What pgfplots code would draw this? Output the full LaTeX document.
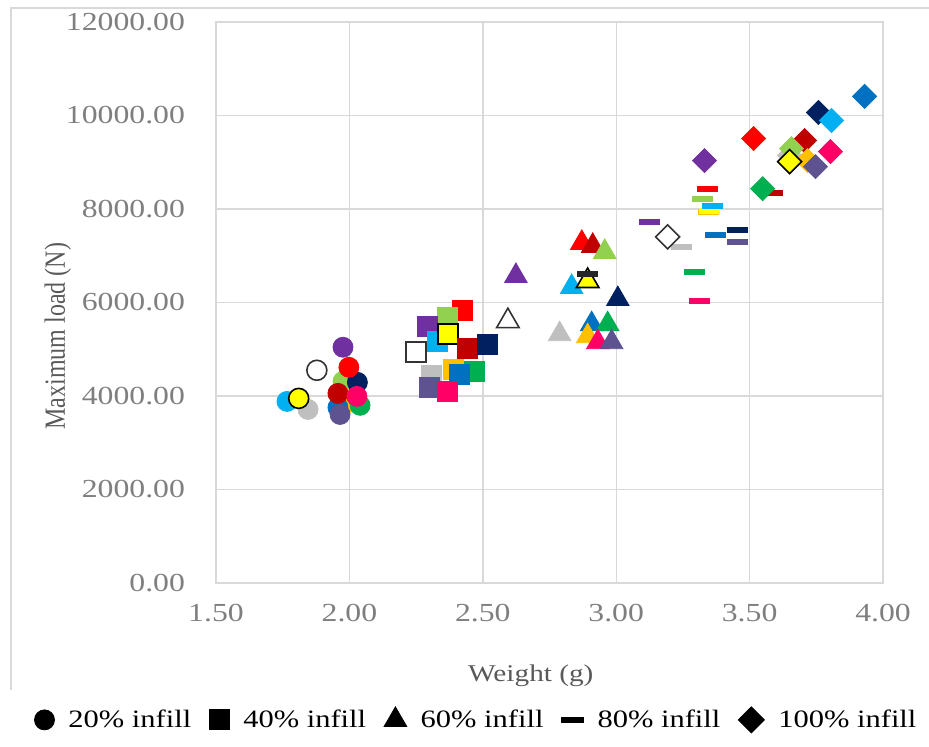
\documentclass[border=0pt]{standalone}
\usepackage{pgfplots}
\pgfplotsset{compat=1.18}
\usepackage{pgfplotstable}
\usepackage{graphicx}
\usepackage{fontspec}
\setmainfont{Liberation Serif}

\definecolor{cpu}{HTML}{7030A0}
\definecolor{cre}{HTML}{FF0000}
\definecolor{clg}{HTML}{92D050}
\definecolor{cna}{HTML}{002060}
\definecolor{cdr}{HTML}{C00000}
\definecolor{cpk}{HTML}{FF0066}
\definecolor{cgr}{HTML}{00B050}
\definecolor{cbl}{HTML}{0070C0}
\definecolor{csl}{HTML}{5E5390}
\definecolor{ccy}{HTML}{00B0F0}
\definecolor{cye}{HTML}{FFFF00}
\definecolor{cgy}{HTML}{BFBFBF}
\definecolor{cor}{HTML}{FFC000}
\definecolor{gridc}{HTML}{D9D9D9}
\definecolor{tickc}{HTML}{7F7F7F}

\pgfdeclareplotmark{rdiamond}{%
  \pgfpathmoveto{\pgfqpoint{0pt}{\pgfplotmarksize}}%
  \pgfpathlineto{\pgfqpoint{\pgfplotmarksize}{0pt}}%
  \pgfpathlineto{\pgfqpoint{0pt}{-\pgfplotmarksize}}%
  \pgfpathlineto{\pgfqpoint{-\pgfplotmarksize}{0pt}}%
  \pgfpathclose\pgfusepathqfillstroke}
\pgfdeclareplotmark{dash}{%
  \pgfpathrectangle{\pgfqpoint{-\pgfplotmarksize}{-0.25\pgfplotmarksize}}{\pgfqpoint{2\pgfplotmarksize}{0.5\pgfplotmarksize}}%
  \pgfusepathqfillstroke}

\newcommand{\hs}[1]{\scalebox{1.22}[1]{#1}}

% 20% infill (circles)
\pgfplotstableread{
x y c
1.990 3850 or
2.040 3800 gr
1.845 3712 gy
1.957 3755 bl
1.965 3605 sl
1.766 3884 cy
1.810 3949 ye
1.976 4313 lg
2.030 4292 na
1.957 4056 dr
2.028 3992 pk
1.998 4614 re
1.976 5043 pu
1.878 4550 wh
}\tabA
% 40% infill (squares)
\pgfplotstableread{
x y c
2.425 5837 re
2.369 5687 lg
2.294 5494 pu
2.328 5172 cy
2.369 5322 ye
2.444 5022 dr
2.519 5107 na
2.249 4936 wh
2.309 4442 gy
2.390 4571 or
2.470 4528 gr
2.414 4464 bl
2.300 4185 sl
2.369 4099 pk
}\tabB
% 60% infill (triangles)
\pgfplotstableread{
x y c
2.871 7275 re
2.912 7211 dr
2.957 7082 lg
2.833 6331 cy
2.893 6459 ye
3.006 6073 na
2.788 5322 gy
2.908 5537 bl
2.968 5537 gr
2.893 5279 or
2.931 5150 pk
2.983 5150 sl
2.624 6567 pu
2.594 5601 wh
}\tabC
% 80% infill (dashes)
\pgfplotstableread{
x y c
3.125 7726 pu
3.245 7189 gy
3.343 8434 re
3.324 8219 lg
3.345 7935 or
3.350 7962 yd
3.360 8069 cy
3.373 7447 bl
3.455 7554 na
3.455 7296 sl
3.294 6653 gr
3.313 6030 pk
3.587 8350 dr
2.893 6610 wk
}\tabD
% 100% infill (diamonds)
\pgfplotstableread{
x y c
3.931 10408 bl
3.758 10065 na
3.807 9893 cy
3.515 9507 re
3.706 9464 dr
3.650 9150 gy
3.657 9292 lg
3.803 9228 pk
3.717 9035 or
3.650 9013 ye
3.747 8906 sl
3.549 8434 gr
3.331 9035 pu
3.193 7404 wh
}\tabE

\pgfplotsset{
  myscatter/.style={
    scatter, only marks, forget plot,
    point meta=explicit symbolic,
    scatter/classes={
      pu={draw=cpu,fill=cpu},
      re={draw=cre,fill=cre},
      lg={draw=clg,fill=clg},
      na={draw=cna,fill=cna},
      dr={draw=cdr,fill=cdr},
      pk={draw=cpk,fill=cpk},
      gr={draw=cgr,fill=cgr},
      bl={draw=cbl,fill=cbl},
      sl={draw=csl,fill=csl},
      cy={draw=ccy,fill=ccy},
      ye={draw=black,fill=cye,line width=0.8pt},
      yd={draw=cye,fill=cye},
      gy={draw=cgy,fill=cgy},
      or={draw=cor,fill=cor},
      wh={draw=black!80,fill=white,line width=0.8pt},
      wk={draw=black!85,fill=black!85}
    }
  }
}

\begin{document}
\begin{tikzpicture}
\path[use as bounding box] (-108pt,-82pt) rectangle (356.5pt,291.5pt);
\draw[gridc, line width=0.8pt] (-102.5pt,-53.5pt) -- (-102.5pt,287.5pt) -- (356.5pt,287.5pt);
\begin{axis}[
  at={(0,0)}, anchor=south west,
  scale only axis, width=333.5pt, height=280.5pt,
  xmin=1.5, xmax=4.0, ymin=0, ymax=12000,
  xtick={1.5,2.0,2.5,3.0,3.5,4.0},
  ytick={0,2000,4000,6000,8000,10000,12000},
  grid=major,
  major grid style={gridc, line width=0.7pt},
  axis line style={gridc, line width=0.7pt},
  major tick length=0pt,
  /pgf/number format/assume math mode=true,
  /pgf/number format/fixed,
  /pgf/number format/fixed zerofill,
  /pgf/number format/precision=2,
  /pgf/number format/1000 sep={},
  scaled ticks=false,
  xticklabel={\hs{\pgfmathprintnumber{\tick}}},
  yticklabel={\hs{\pgfmathprintnumber{\tick}}},
  tick label style={font=\fontsize{13}{15}\selectfont, text=tickc},
  xticklabel style={yshift=-7pt},
  yticklabel style={xshift=-12pt},
  xlabel={\hs{Weight (g)}},
  ylabel={\scalebox{1}[1.22]{Maximum load (N)}},
  label style={font=\fontsize{12}{14}\selectfont, text=black!65},
  xlabel style={at={(axis description cs:0.472,-0.165)}, anchor=center},
  ylabel style={at={(axis description cs:-0.237,0.44)}, anchor=center},
  legend columns=5,
  legend style={at={(axis description cs:0.392,-0.244)}, anchor=center, draw=none, fill=none,
    font=\fontsize{12.5}{14}\selectfont,
    /tikz/every odd column/.append style={column sep=5pt},
    /tikz/every even column/.append style={column sep=7pt}},
  legend cell align=left,
]
\addlegendimage{only marks, mark=*, mark size=5pt, black}
\addlegendentry{\hs{20\% infill}}
\addlegendimage{only marks, mark=square*, mark size=5pt, black}
\addlegendentry{\hs{40\% infill}}
\addlegendimage{only marks, mark=triangle*, mark size=6.5pt, black}
\addlegendentry{\hs{60\% infill}}
\addlegendimage{only marks, mark=dash, mark size=5.5pt, black}
\addlegendentry{\hs{80\% infill}}
\addlegendimage{only marks, mark=rdiamond, mark size=6.5pt, black}
\addlegendentry{\hs{100\% infill}}

\addplot[myscatter, mark=*, mark size=5pt] table[x=x,y=y,meta=c] {\tabA};
\addplot[myscatter, mark=square*, mark size=5pt] table[x=x,y=y,meta=c] {\tabB};
\addplot[myscatter, mark=triangle*, mark size=6.5pt] table[x=x,y=y,meta=c] {\tabC};
\addplot[myscatter, mark=dash, mark size=5pt] table[x=x,y=y,meta=c] {\tabD};
\addplot[myscatter, mark=rdiamond, mark size=6pt] table[x=x,y=y,meta=c] {\tabE};
\end{axis}
\end{tikzpicture}
\end{document}
